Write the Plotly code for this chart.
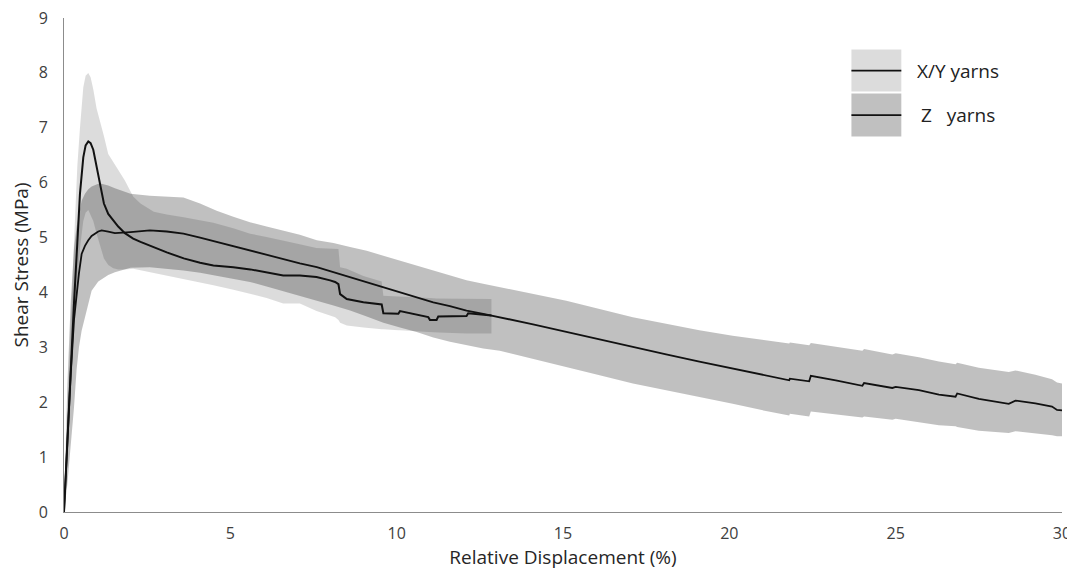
import plotly.graph_objects as go

# ---------------- data ----------------
# Z yarns (mean curve and band limits)
z_x = [0, 0.1, 0.2, 0.3, 0.38, 0.45, 0.53, 0.63, 0.73, 0.83,
       1.03, 1.13, 1.33, 1.53, 2.0, 2.58, 3.09, 3.59, 4.09, 4.59,
       5.09, 5.59, 6.09, 6.59, 7.09, 7.6, 8.1, 8.6, 9.1, 9.6,
       10.1, 10.6, 11.1, 11.6, 12.1, 12.6, 13.1, 14.1, 15.1, 16.1,
       17.1, 18.1, 19.1, 20.1, 21.1, 21.8, 21.82, 22.4, 22.45, 23.2,
       24.0, 24.05, 24.9, 25.0, 25.7, 26.3, 26.8, 26.85, 27.5, 28.4,
       28.6, 29.2, 29.7, 29.85, 30]
z_mean = [0, 1.3, 2.5, 3.5, 3.97, 4.35, 4.7, 4.85, 4.95, 5.03,
          5.11, 5.13, 5.11, 5.08, 5.10, 5.13, 5.11, 5.07, 5.0, 4.92,
          4.84, 4.76, 4.69, 4.61, 4.53, 4.46, 4.37, 4.28, 4.19, 4.09,
          4.0, 3.91, 3.82, 3.75, 3.67, 3.61, 3.55, 3.42, 3.28, 3.14,
          3.0, 2.87, 2.74, 2.61, 2.48, 2.40, 2.43, 2.38, 2.48, 2.40,
          2.30, 2.35, 2.26, 2.28, 2.22, 2.14, 2.10, 2.16, 2.06, 1.97,
          2.03, 1.98, 1.92, 1.86, 1.85]
z_hi = [0, 2.3, 3.8, 4.8, 5.2, 5.45, 5.67, 5.8, 5.88, 5.93,
        5.98, 5.98, 5.95, 5.9, 5.8, 5.76, 5.75, 5.73, 5.62, 5.49,
        5.38, 5.28, 5.2, 5.13, 5.05, 4.95, 4.9, 4.83, 4.76, 4.67,
        4.58, 4.49, 4.40, 4.31, 4.22, 4.16, 4.10, 3.97, 3.85, 3.70,
        3.55, 3.43, 3.31, 3.21, 3.12, 3.07, 3.09, 3.04, 3.08, 3.01,
        2.94, 2.97, 2.87, 2.89, 2.82, 2.74, 2.69, 2.72, 2.63, 2.55,
        2.58, 2.50, 2.42, 2.36, 2.34]
z_lo = [0, 0.5, 1.2, 1.9, 2.6, 3.0, 3.3, 3.55, 3.8, 4.03,
        4.2, 4.25, 4.32, 4.37, 4.45, 4.46, 4.43, 4.40, 4.36, 4.31,
        4.25, 4.19, 4.11, 4.03, 3.94, 3.85, 3.76, 3.67, 3.56, 3.45,
        3.36, 3.28, 3.18, 3.10, 3.04, 2.98, 2.94, 2.80, 2.64, 2.49,
        2.34, 2.21, 2.09, 1.97, 1.84, 1.76, 1.79, 1.74, 1.83, 1.78,
        1.72, 1.74, 1.68, 1.70, 1.64, 1.58, 1.56, 1.55, 1.48, 1.44,
        1.47, 1.43, 1.40, 1.38, 1.38]

# X/Y yarns (mean curve and band limits)
xy_x = [0, 0.1, 0.2, 0.3, 0.4, 0.48, 0.58, 0.65, 0.73, 0.8,
        0.88, 0.98, 1.08, 1.2, 1.33, 1.48, 1.63, 1.83, 2.08, 2.3,
        2.7, 3.09, 3.6, 4.09, 4.49, 5.09, 5.6, 6.09, 6.59, 7.09,
        7.59, 8.0, 8.15, 8.25, 8.3, 8.5, 9.0, 9.55, 9.6, 10.05,
        10.1, 10.95, 11.0, 11.2, 11.25, 12.1, 12.15, 12.85]
xy_mean = [0, 1.3, 2.6, 3.8, 4.9, 5.8, 6.46, 6.68, 6.75, 6.72,
           6.6, 6.3, 5.95, 5.62, 5.43, 5.31, 5.2, 5.08, 4.98, 4.92,
           4.82, 4.73, 4.62, 4.54, 4.49, 4.46, 4.42, 4.36, 4.31, 4.31,
           4.28, 4.22, 4.19, 4.15, 3.97, 3.88, 3.82, 3.78, 3.62, 3.61,
           3.66, 3.55, 3.50, 3.50, 3.56, 3.57, 3.62, 3.58]
xy_hi = [0, 1.8, 3.4, 4.9, 6.3, 7.0, 7.74, 7.95, 8.0, 7.92,
         7.7, 7.35, 7.13, 6.85, 6.52, 6.37, 6.22, 6.04, 5.75, 5.62,
         5.47, 5.42, 5.37, 5.31, 5.27, 5.17, 5.07, 5.01, 4.95, 4.88,
         4.81, 4.79, 4.79, 4.79, 4.46, 4.43, 4.3, 4.2, 3.94, 3.93,
         3.93, 3.9, 3.9, 3.89, 3.89, 3.88, 3.88, 3.88]
xy_lo = [0, 0.9, 2.0, 3.2, 4.2, 4.8, 5.3, 5.45, 5.5, 5.42,
         5.3, 5.07, 4.85, 4.62, 4.5, 4.44, 4.42, 4.42, 4.43, 4.40,
         4.35, 4.3, 4.24, 4.18, 4.13, 4.05, 3.98, 3.9, 3.8, 3.8,
         3.66, 3.58, 3.55, 3.5, 3.45, 3.40, 3.36, 3.33, 3.33, 3.31,
         3.31, 3.28, 3.28, 3.27, 3.27, 3.25, 3.25, 3.25]

x_ticks = [0, 5, 10, 15, 20, 25, 30]
y_ticks = [0, 1, 2, 3, 4, 5, 6, 7, 8, 9]
series_names = ["X/Y yarns", "Z   yarns"]

# ---------------- styles ----------------
XY_FILL = "rgba(0,0,0,0.137)"
Z_FILL = "rgba(0,0,0,0.247)"
LINE_COLOR = "#111111"
FONT = "Open Sans, DejaVu Sans, sans-serif"
TEXT_COLOR = "#404040"

fig = go.Figure()

# bands
fig.add_trace(go.Scatter(
    x=z_x + z_x[::-1], y=z_hi + z_lo[::-1],
    fill="toself", fillcolor=Z_FILL, line=dict(width=0),
    mode="lines", hoverinfo="skip", showlegend=False))
fig.add_trace(go.Scatter(
    x=xy_x + xy_x[::-1], y=xy_hi + xy_lo[::-1],
    fill="toself", fillcolor=XY_FILL, line=dict(width=0),
    mode="lines", hoverinfo="skip", showlegend=False))

# mean curves
fig.add_trace(go.Scatter(x=z_x, y=z_mean, mode="lines",
                         line=dict(color=LINE_COLOR, width=1.8),
                         name=series_names[1], showlegend=False))
fig.add_trace(go.Scatter(x=xy_x, y=xy_mean, mode="lines",
                         line=dict(color=LINE_COLOR, width=2),
                         name=series_names[0], showlegend=False))

# custom legend (boxes with a line through them)
leg_x0, leg_x1 = 0.789, 0.839
rows = [(0.936, 0.851, XY_FILL, series_names[0], 0.853),
        (0.847, 0.760, Z_FILL, series_names[1], 0.857)]
for top, bot, fc, label, tx in rows:
    fig.add_shape(type="rect", xref="paper", yref="paper",
                  x0=leg_x0, x1=leg_x1, y0=bot, y1=top,
                  fillcolor=fc, line=dict(width=0), layer="below")
    mid = (top + bot) / 2
    fig.add_shape(type="line", xref="paper", yref="paper",
                  x0=leg_x0, x1=leg_x1, y0=mid, y1=mid,
                  line=dict(color=LINE_COLOR, width=1.8))
    fig.add_annotation(x=tx, y=mid, xref="paper", yref="paper",
                       text=label, showarrow=False, xanchor="left",
                       yanchor="middle",
                       font=dict(family=FONT, size=19, color="#222222"))

# the page puts the figure 8 px in from the top-left corner,
# so the figure is sized to end exactly at the window edges
fig.update_layout(
    width=1067, height=562,
    margin=dict(l=56, r=13, t=10, b=58),
    paper_bgcolor="white", plot_bgcolor="white",
    font=dict(family=FONT, color=TEXT_COLOR, size=16),
    showlegend=False,
)
fig.update_xaxes(
    range=[0, 30], tickvals=x_ticks, showgrid=False, zeroline=False,
    showline=True, linecolor="#8c8c8c", linewidth=1, ticks="",
    ticklabelstandoff=7, automargin=False, ticklabeloverflow="allow",
    tickfont=dict(family=FONT, size=16, color=TEXT_COLOR),
    title=dict(text="Relative Displacement (%)", standoff=3,
               font=dict(family=FONT, size=19, color="#262626")),
)
fig.update_yaxes(
    range=[0, 9], tickvals=y_ticks, showgrid=False, zeroline=False,
    showline=True, linecolor="#8c8c8c", linewidth=1, ticks="",
    ticklabelstandoff=12, automargin=False, ticklabeloverflow="allow",
    tickfont=dict(family=FONT, size=16, color=TEXT_COLOR),
    title=dict(text="Shear Stress (MPa)", standoff=8,
               font=dict(family=FONT, size=19, color="#262626")),
)

fig.write_html("out.html")
